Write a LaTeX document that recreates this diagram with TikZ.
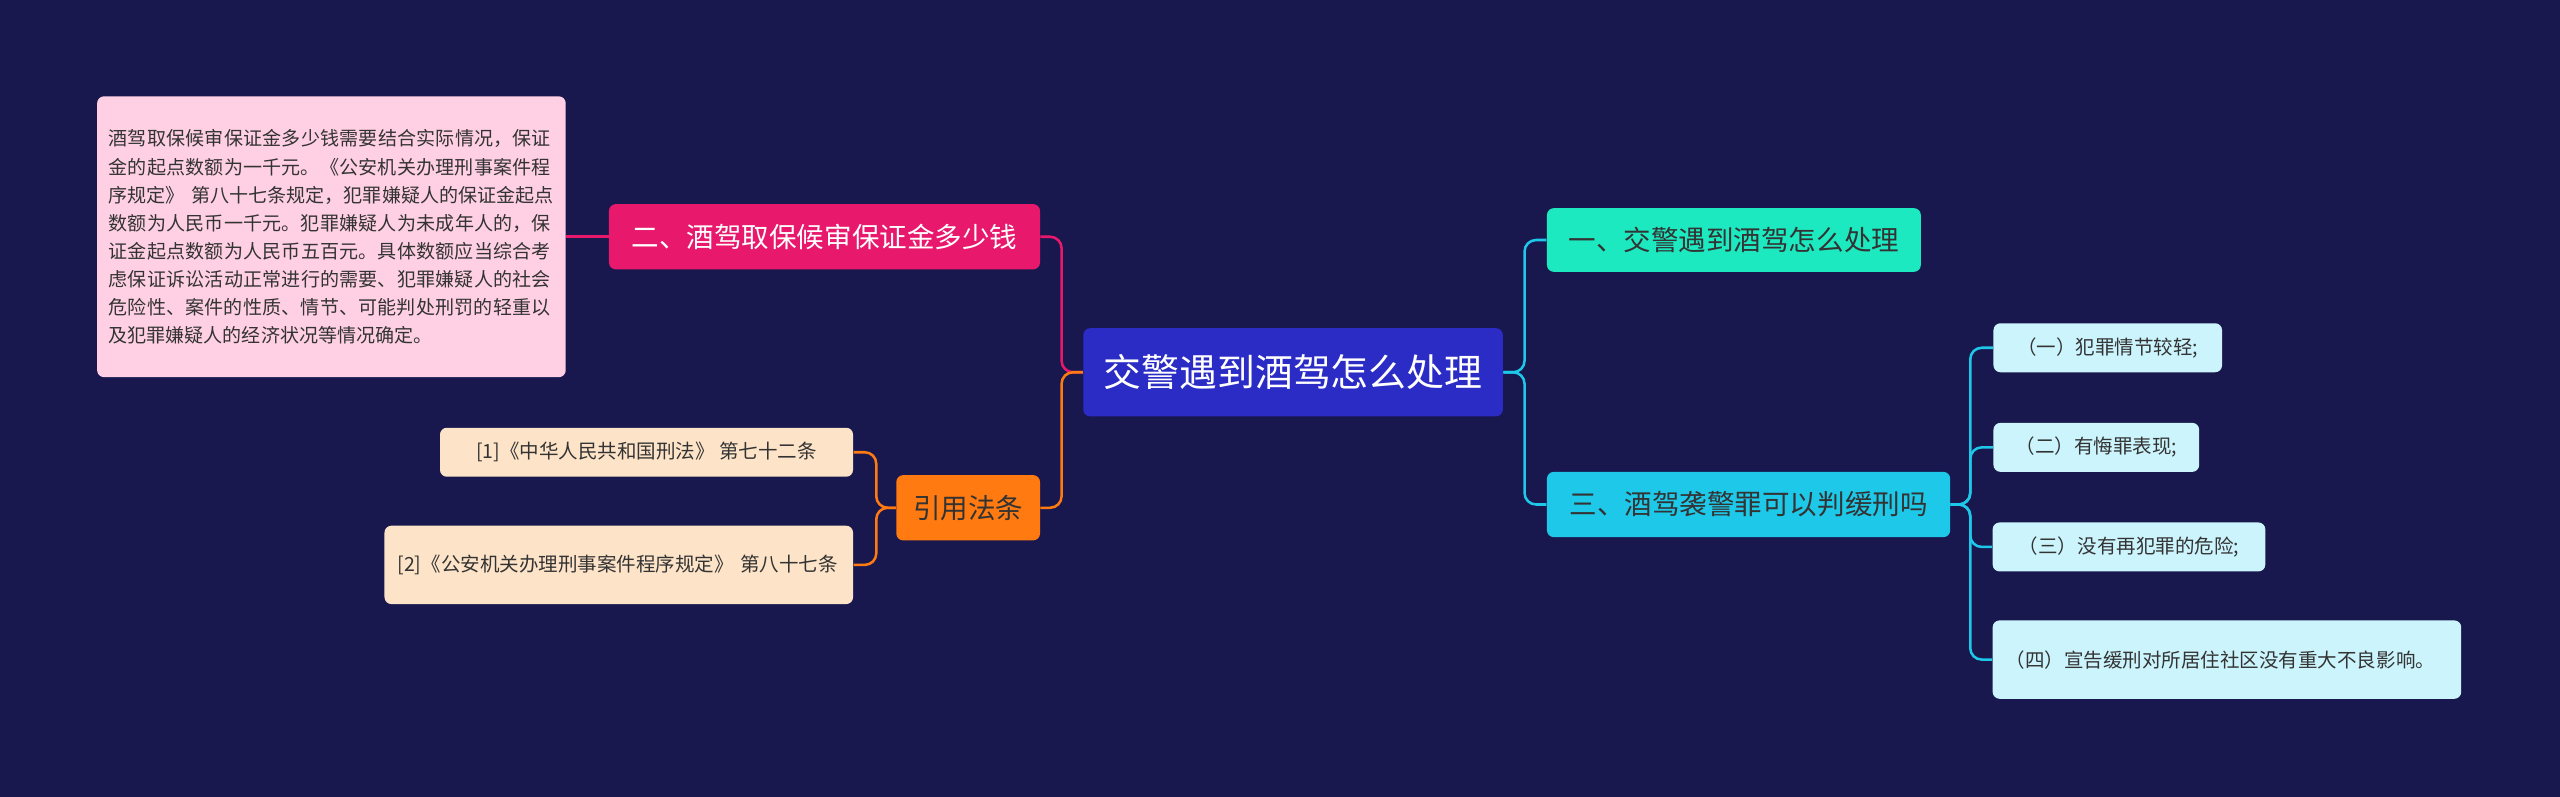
\documentclass[tikz,border=0pt]{standalone}
\usepackage{fontspec}
\setmainfont{Noto Sans CJK SC}
\XeTeXlinebreaklocale "zh"
\XeTeXlinebreakskip=0pt plus 1pt
\definecolor{bgc}{HTML}{18184F}
\definecolor{rootc}{HTML}{2B2BC6}
\definecolor{tealc}{HTML}{1DE9C0}
\definecolor{cyanc}{HTML}{1EC8E8}
\definecolor{leafc}{HTML}{CCF4FC}
\definecolor{pinkc}{HTML}{E8186C}
\definecolor{pinkl}{HTML}{FFD0E4}
\definecolor{orgc}{HTML}{FF7A10}
\definecolor{orgl}{HTML}{FDE4C8}
\begin{document}
\begin{tikzpicture}[x=0.025cm,y=-0.025cm]
\tikzset{
  box/.style={rounded corners=3pt, inner sep=0pt, align=left},
  leaf/.style={box, fill=leafc, text=black!80, font=\fontsize{8.5}{12}\selectfont},
  link/.style={line width=1.1pt, rounded corners=5pt}
}
\fill[bgc] (0,0) rectangle (1568,488);
\node[box, fill=rootc, text=white, minimum width=257*0.025cm, minimum height=54*0.025cm, font=\fontsize{16.5}{20}\selectfont] (root) at (792,228) {交警遇到酒驾怎么处理};
\node[box, fill=tealc, text=black!80, minimum width=229*0.025cm, minimum height=39*0.025cm, font=\fontsize{12}{14}\selectfont] (n1) at (1062,147) {一、交警遇到酒驾怎么处理};
\node[box, fill=cyanc, text=black!80, minimum width=247*0.025cm, minimum height=40*0.025cm, font=\fontsize{12}{14}\selectfont] (n3) at (1071,309) {三、酒驾袭警罪可以判缓刑吗};
\node[leaf, minimum width=140*0.025cm, minimum height=30*0.025cm] (l1) at (1291,213) {（一）犯罪情节较轻;};
\node[leaf, minimum width=126*0.025cm, minimum height=30*0.025cm] (l2) at (1284,274) {（二）有悔罪表现;};
\node[leaf, minimum width=167*0.025cm, minimum height=30*0.025cm] (l3) at (1304,335) {（三）没有再犯罪的危险;};
\node[leaf, minimum width=287*0.025cm, minimum height=48*0.025cm, text width=271*0.025cm] (l4) at (1364,404) {（四）宣告缓刑对所居住社区没有重大不良影响。};
\node[box, fill=pinkc, text=white, minimum width=264*0.025cm, minimum height=40*0.025cm, font=\fontsize{12}{14}\selectfont] (n2) at (505,145) {二、酒驾取保候审保证金多少钱};
\node[box, fill=pinkl, text=black!80, minimum width=287*0.025cm, minimum height=172*0.025cm, text width=273*0.025cm, font=\fontsize{8.3}{12.2}\selectfont] (t2) at (203,145) {酒驾取保候审保证金多少钱需要结合实际情况，保证金的起点数额为一千元。《公安机关办理刑事案件程序规定》 第八十七条规定，犯罪嫌疑人的保证金起点数额为人民币一千元。犯罪嫌疑人为未成年人的，保证金起点数额为人民币五百元。具体数额应当综合考虑保证诉讼活动正常进行的需要、犯罪嫌疑人的社会危险性、案件的性质、情节、可能判处刑罚的轻重以及犯罪嫌疑人的经济状况等情况确定。};
\node[box, fill=orgc, text=black!80, minimum width=88*0.025cm, minimum height=40*0.025cm, font=\fontsize{12}{14}\selectfont] (ref) at (593,311) {引用法条};
\node[box, fill=orgl, text=black!80, minimum width=253*0.025cm, minimum height=30*0.025cm, font=\fontsize{8.5}{12}\selectfont] (r1) at (396,277) {[1]《中华人民共和国刑法》 第七十二条};
\node[box, fill=orgl, text=black!80, minimum width=287*0.025cm, minimum height=48*0.025cm, text width=271*0.025cm, font=\fontsize{8.5}{12}\selectfont] (r2) at (379,346) {[2]《公安机关办理刑事案件程序规定》 第八十七条};
% connectors
\draw[link, cyanc] (root.east) -- ++(13,0) |- (n1.west);
\draw[link, cyanc] (root.east) -- ++(13,0) |- (n3.west);
\foreach \l in {l1,l2,l3,l4}
  \draw[link, cyanc] (n3.east) -- ++(12,0) |- (\l.west);
\draw[link, pinkc] (root.west) -- ++(-13,0) |- (n2.east);
\draw[link, pinkc] (n2.west) -- (t2.east);
\draw[link, orgc] (root.west) -- ++(-13,0) |- (ref.east);
\draw[link, orgc] (ref.west) -- ++(-12,0) |- (r1.east);
\draw[link, orgc] (ref.west) -- ++(-12,0) |- (r2.east);
\end{tikzpicture}
\end{document}
